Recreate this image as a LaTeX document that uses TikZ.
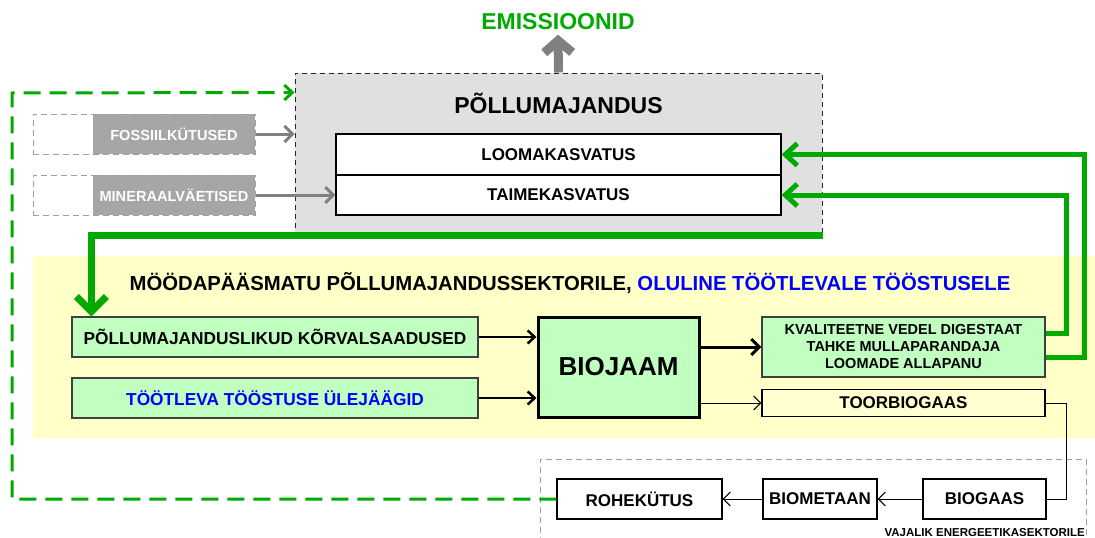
\documentclass[tikz,border=0pt]{standalone}
\usepackage{fontspec}
\setmainfont{Liberation Sans}
\usetikzlibrary{arrows.meta}
\definecolor{gr}{RGB}{0,170,0}
\definecolor{agray}{RGB}{128,128,128}
\definecolor{pfill}{RGB}{224,224,224}
\definecolor{yel}{RGB}{255,255,200}
\definecolor{lgreen}{RGB}{192,255,192}
\definecolor{tfill}{RGB}{255,255,210}
\definecolor{bgray}{RGB}{166,166,166}
\definecolor{dgray}{RGB}{160,160,160}
\definecolor{blu}{RGB}{0,0,255}
\newcommand{\fsz}[1]{\fontsize{#1}{#1}\selectfont\bfseries}
\tikzset{
  box/.style={draw, inner sep=0pt, align=center},
  whitebox/.style={box, fill=white, line width=1.2pt, font=\fsz{17}},
  greenbox/.style={box, fill=lgreen, draw=black!75, line width=1.2pt, font=\fsz{17.3}},
  smallbox/.style={box, fill=white, line width=1.2pt, font=\fsz{17}},
  dashgray/.style={draw=dgray, dashed, dash pattern=on 6pt off 4pt, line width=1pt},
  garrow/.style={draw=agray, line width=3pt, -{Straight Barb[length=8pt,width=16pt]}},
  barrow/.style={draw=black, line width=2.5pt, -{Straight Barb[length=7pt,width=13pt]}},
  bigarrow/.style={draw=black, line width=3pt, -{Straight Barb[length=8pt,width=16pt]}},
  tarrow/.style={draw=black, line width=1pt, -{Straight Barb[length=7pt,width=14pt]}},
  gmid/.style={draw=gr, line width=5pt, -{Straight Barb[length=12pt,width=22pt]}},
  gthick/.style={draw=gr, line width=7pt, -{Straight Barb[length=15pt,width=30pt]}},
  gdash/.style={draw=gr, line width=3pt, dash pattern=on 17pt off 9pt, -{Straight Barb[length=8pt,width=15pt]}},
}
\begin{document}
\begin{tikzpicture}[x=1pt,y=-1pt]
\useasboundingbox (0,0) rectangle (1095,538);

% yellow band
\node[fill=yel, inner sep=0pt, minimum width=1062, minimum height=182] (yb) at (564,347) {};

% agriculture box
\node[fill=pfill, draw=black!85, dashed, dash pattern=on 5pt off 4pt, line width=1pt, minimum width=527, minimum height=164] (pm) at (558.5,155) {};
\node[font=\fsz{23}] (pmt) at (558.5,103) {PÕLLUMAJANDUS};
\node[whitebox, minimum width=445, minimum height=41] (loom) at (558.5,154.5) {LOOMAKASVATUS};
\node[whitebox, minimum width=445, minimum height=40] (taim) at (558.5,195) {TAIMEKASVATUS};

% emissions
\node[text=gr, font=\fsz{23}] (em) at (558,22) {EMISSIOONID};
\draw[draw=agray, line width=9pt, -{Straight Barb[length=12pt,width=28pt]}] (pm.north) -- ([yshift=-1pt]em.south);

% fossil inputs
\node[fill=bgray, inner sep=0pt, minimum width=162, minimum height=40, text=white, font=\fsz{14.6}] (fot) at (174,134) {FOSSIILKÜTUSED};
\node[dashgray, inner sep=0pt, minimum width=222, minimum height=40] (fo) at (144,134) {};
\node[fill=bgray, inner sep=0pt, minimum width=162, minimum height=40, text=white, font=\fsz{14.6}] (mit) at (174,195) {MINERAALVÄETISED};
\node[dashgray, inner sep=0pt, minimum width=222, minimum height=40] (mi) at (144,195) {};
\draw[garrow] (fo.east) -- (pm.west |- fo.east);
\draw[garrow] (mi.east) -- (taim.west);

% title of yellow band
\node[font=\fsz{20.3}] (yt) at (570,283) {MÖÖDAPÄÄSMATU PÕLLUMAJANDUSSEKTORILE, \textcolor{blu}{OLULINE TÖÖTLEVALE TÖÖSTUSELE}};

% inputs
\node[greenbox, minimum width=406, minimum height=40] (pk) at (275,337) {PÕLLUMAJANDUSLIKUD KÕRVALSAADUSED};
\node[greenbox, minimum width=406, minimum height=40, text=blu] (tt) at (275,398) {TÖÖTLEVA TÖÖSTUSE ÜLEJÄÄGID};

% biogas plant
\node[box, fill=lgreen, line width=3pt, minimum width=161, minimum height=100, font=\fsz{26}] (bj) at (618.5,367) {BIOJAAM};
\draw[barrow] (pk.east) -- (pk.east -| bj.west);
\draw[barrow] (tt.east) -- (tt.east -| bj.west);

% outputs
\node[greenbox, minimum width=283, minimum height=60, font=\fsz{14.5}, align=center] (kv) at (903.5,347) {KVALITEETNE VEDEL DIGESTAAT\\[2.5pt]TAHKE MULLAPARANDAJA\\[2.5pt]LOOMADE ALLAPANU};
\node[box, fill=tfill, line width=1.2pt, minimum width=283, minimum height=27, font=\fsz{17}] (to) at (903.5,403) {TOORBIOGAAS};
\draw[bigarrow] (bj.east |- kv.west) -- (kv.west);
\draw[tarrow] (bj.east |- to.west) -- (to.west);

% green feedback loops
\coordinate (ci) at (1066,195);
\coordinate (co) at (1084,154.5);
\draw[gmid] ([yshift=14pt]kv.east) -| (ci) -- (taim.east);
\draw[gmid] ([yshift=-10pt]kv.east) -| (co) -- (loom.east);
\draw[gthick] ([yshift=2pt]pm.south east) -| ([xshift=20pt]pk.north west);

% energy sector
\node[dashgray, inner sep=0pt, minimum width=546, minimum height=110] (en) at (813,514) {};
\node[smallbox, minimum width=165, minimum height=40] (ro) at (639.5,499) {ROHEKÜTUS};
\node[smallbox, minimum width=114, minimum height=40] (bm) at (820,499) {BIOMETAAN};
\node[smallbox, minimum width=123, minimum height=40] (bg) at (984.5,499) {BIOGAAS};
\node[font=\fsz{11.5}, anchor=south east, inner sep=0pt] (enl) at (1085,537) {VAJALIK ENERGEETIKASEKTORILE};
\draw[tarrow] (bg.west) -- (bm.east);
\draw[tarrow] (bm.west) -- (ro.east);
\coordinate (tb) at (1066,450);
\draw[line width=1pt] (to.east) -| (tb |- bg.east) -- (bg.east);

% green dashed return
\coordinate (gl) at (12,93);
\draw[gdash] (ro.west) -| (gl) -- ([yshift=-20pt]pm.north west);
\end{tikzpicture}
\end{document}
